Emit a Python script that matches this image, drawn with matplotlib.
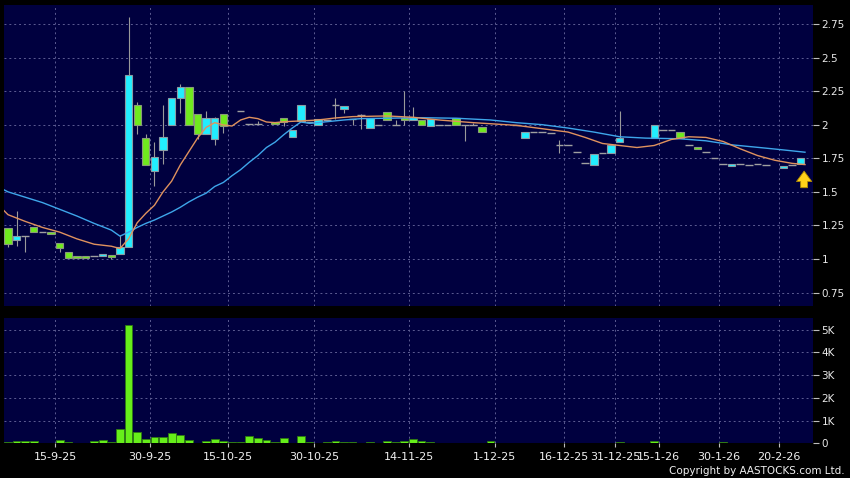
import numpy as np
import matplotlib
matplotlib.use('Agg')
import matplotlib.pyplot as plt

nan = np.nan

# daily candles (index = trading slot on the chart)
opens = [1.23, 1.14, 1.17, 1.24, 1.20, 1.20, 1.12, 1.05, 1.02, 1.02,
         1.02, 1.02, 1.03, 1.035, 1.09, 2.15, 1.90, 1.655, 1.81, 2.00,
         2.20, 2.28, 2.08, 1.93, 1.89, 2.08, nan, 2.105, 2.005, 2.005,
         nan, 2.022, 2.048, 1.906, 2.03, 2.02, 2.00, 2.035, 2.15, 2.115,
         2.045, 2.07, 1.973, 2.00, 2.097, 2.00, 2.048, 2.035, 2.035, 1.993,
         2.00, 2.00, 2.048, 2.00, 2.00, 1.985, nan, nan, nan, 1.995,
         1.90, 1.948, 1.948, 1.936, 1.845, 1.845, 1.794, 1.712, 1.70, 1.787,
         1.787, 1.873, nan, nan, nan, 1.90, 1.96, 1.96, 1.943, 1.847,
         1.836, 1.794, 1.75, 1.707, 1.695, 1.707, 1.70, 1.705, 1.698, nan,
         1.68, 1.698, 1.705]
highs = [1.23, 1.36, 1.17, 1.24, 1.20, 1.20, 1.12, 1.05, 1.02, 1.02,
         1.02, 1.035, 1.03, 1.18, 2.80, 2.17, 1.93, 1.87, 2.145, 2.20,
         2.30, 2.28, 2.08, 2.10, 2.055, 2.08, nan, 2.105, 2.005, 2.03,
         nan, 2.022, 2.048, 1.96, 2.145, 2.02, 2.04, 2.035, 2.20, 2.14,
         2.045, 2.08, 2.048, 2.00, 2.097, 2.035, 2.25, 2.13, 2.035, 2.042,
         2.00, 2.00, 2.048, 2.00, 2.015, 1.985, nan, nan, nan, 1.995,
         1.943, 1.948, 1.948, 1.936, 1.886, 1.845, 1.794, 1.712, 1.78, 1.787,
         1.85, 2.105, nan, nan, nan, 2.00, 1.96, 1.96, 1.943, 1.847,
         1.836, 1.794, 1.75, 1.707, 1.71, 1.707, 1.70, 1.705, 1.698, nan,
         1.695, 1.698, 1.75]
lows = [1.09, 1.10, 1.05, 1.20, 1.20, 1.185, 1.05, 1.005, 1.005, 1.005,
        1.02, 1.02, 1.00, 1.035, 1.09, 1.93, 1.70, 1.54, 1.705, 2.00,
        2.085, 2.00, 1.89, 1.93, 1.85, 1.94, nan, 2.105, 2.005, 2.005,
        nan, 2.005, 1.99, 1.906, 2.03, 2.02, 2.00, 2.035, 2.04, 2.085,
        2.00, 1.97, 1.973, 2.00, 2.035, 2.00, 2.00, 2.035, 1.995, 1.993,
        2.00, 2.00, 1.998, 1.88, 2.00, 1.943, nan, nan, nan, 1.995,
        1.90, 1.948, 1.948, 1.936, 1.79, 1.845, 1.794, 1.712, 1.70, 1.787,
        1.787, 1.873, nan, nan, nan, 1.90, 1.96, 1.96, 1.90, 1.847,
        1.817, 1.794, 1.75, 1.707, 1.695, 1.707, 1.70, 1.705, 1.698, nan,
        1.68, 1.698, 1.705]
closes = [1.11, 1.17, 1.17, 1.20, 1.20, 1.185, 1.08, 1.005, 1.005, 1.005,
          1.02, 1.035, 1.015, 1.09, 2.37, 2.00, 1.70, 1.76, 1.91, 2.20,
          2.28, 2.00, 1.93, 2.05, 2.05, 1.99, nan, 2.105, 2.005, 2.005,
          nan, 2.005, 2.022, 1.96, 2.145, 2.02, 2.04, 2.035, 2.15, 2.14,
          2.045, 2.07, 2.048, 2.00, 2.035, 2.00, 2.035, 2.06, 1.995, 2.042,
          2.00, 2.00, 1.998, 2.00, 2.00, 1.943, nan, nan, nan, 1.995,
          1.943, 1.948, 1.948, 1.936, 1.845, 1.845, 1.794, 1.712, 1.78, 1.787,
          1.85, 1.903, nan, nan, nan, 2.00, 1.96, 1.96, 1.90, 1.847,
          1.817, 1.794, 1.75, 1.707, 1.71, 1.707, 1.70, 1.705, 1.698, nan,
          1.695, 1.698, 1.75]
# volume in thousands of shares
volume_k = [0.04, 0.09, 0.09, 0.09, 0.02, 0.02, 0.13, 0.05, 0.02, 0.02,
            0.09, 0.13, 0.05, 0.62, 5.2, 0.48, 0.18, 0.26, 0.26, 0.45,
            0.35, 0.13, 0.03, 0.10, 0.18, 0.12, 0.04, 0.04, 0.32, 0.25,
            0.15, 0.04, 0.25, 0.02, 0.33, 0.04, 0.0, 0.04, 0.12, 0.05,
            0.05, 0.02, 0.06, 0.01, 0.10, 0.05, 0.10, 0.20, 0.12, 0.04,
            0.01, 0.01, 0.03, 0.03, 0.02, 0.03, 0.09, 0.02, 0.01, 0.02,
            0.03, 0.01, 0.01, 0.01, 0.03, 0.01, 0.01, 0.02, 0.01, 0.01,
            0.02, 0.05, 0.01, 0.01, 0.01, 0.09, 0.02, 0.01, 0.01, 0.01,
            0.01, 0.02, 0.01, 0.04, 0.01, 0.01, 0.02, 0.01, 0.01, 0.01,
            0.01, 0.01, 0.02]

# moving averages
ma_short_idx = [-0.46, 0, 2, 4, 6, 8, 10, 12, 13, 14, 15, 16, 17, 18, 19, 20,
                21, 22, 23, 24, 25, 26, 27, 28, 29, 30, 31, 32, 34, 36, 38, 40,
                44, 47, 50, 54, 59, 62, 65, 67, 69, 71, 73, 75, 77, 79, 81, 83,
                85, 87, 89, 91, 92.5]
ma_short = [1.36, 1.33, 1.28, 1.235, 1.20, 1.15, 1.11, 1.095, 1.078, 1.15,
            1.27, 1.34, 1.40, 1.50, 1.58, 1.70, 1.80, 1.90, 1.98, 2.015,
            1.998, 1.99, 2.035, 2.055, 2.045, 2.02, 2.015, 2.022, 2.028, 2.035,
            2.05, 2.06, 2.065, 2.055, 2.035, 2.015, 1.995, 1.97, 1.945, 1.905,
            1.86, 1.845, 1.83, 1.845, 1.89, 1.91, 1.905, 1.875, 1.82, 1.77,
            1.735, 1.712, 1.703]
ma_long_idx = [-0.46, 0, 2, 4, 6, 8, 10, 12, 13, 14, 15, 16, 17, 18, 19, 20,
               21, 22, 23, 24, 25, 26, 27, 28, 29, 30, 31, 32, 33, 34, 35, 36,
               37, 39, 41, 44, 48, 52, 56, 59, 62, 65, 68, 71, 74, 78, 81, 84,
               88, 90, 92.5]
ma_long = [1.515, 1.50, 1.46, 1.42, 1.37, 1.32, 1.265, 1.215, 1.17, 1.20,
           1.235, 1.265, 1.29, 1.32, 1.35, 1.385, 1.425, 1.46, 1.49, 1.54,
           1.57, 1.62, 1.665, 1.72, 1.77, 1.83, 1.87, 1.925, 1.975, 2.02,
           2.01, 2.015, 2.022, 2.035, 2.045, 2.048, 2.052, 2.048, 2.035, 2.015,
           2.0, 1.975, 1.945, 1.91, 1.90, 1.895, 1.88, 1.85, 1.825, 1.812,
           1.795]

date_labels = ['15-9-25', '30-9-25', '15-10-25', '30-10-25', '14-11-25', '1-12-25',
               '16-12-25', '31-12-25', '15-1-26', '30-1-26', '20-2-26']
date_idx = [5.5, 16.5, 25.5, 35.5, 46.5, 56.5, 64.5, 70.5, 75.5, 82.5, 89.5]
price_ticks = [0.75, 1, 1.25, 1.5, 1.75, 2, 2.25, 2.5, 2.75]
vol_ticks = [0, 1, 2, 3, 4, 5]

o = np.array(opens)
h = np.array(highs)
l = np.array(lows)
c = np.array(closes)
x = np.arange(len(o))

BG = '#00003f'
GRID = '#5c5c92'
CYAN = '#22eeff'
GREEN = '#70ea1e'

fig = plt.figure(figsize=(8.5, 4.78), dpi=100, facecolor='black')
ax = fig.add_axes([4/850, 1-306/478, 809/850, 301/478])
axv = fig.add_axes([4/850, 1-443.3/478, 809/850, 125/478])

for a in (ax, axv):
    a.set_facecolor(BG)
    for s in a.spines.values():
        s.set_visible(False)
    a.set_xlim(-0.46, 93.43)
    a.set_xticks(date_idx)
    a.grid(True, color=GRID, linestyle=(0, (2, 3)), linewidth=0.7)
    a.set_axisbelow(True)
    a.yaxis.tick_right()
    a.tick_params(axis='y', colors='#bdbdbd', labelcolor='#e8e8e8',
                  labelsize=7.5, length=4, width=0.8, pad=2)

# candles
valid = ~np.isnan(o)
doji = valid & (np.abs(c - o) < 1e-9)
body = valid & ~doji
up = body & (c > o)
down = body & (c < o)

ax.vlines(x[valid], l[valid], h[valid], color='#9a9a9a', lw=0.8, zorder=2)
ax.hlines(o[doji], x[doji] - 0.45, x[doji] + 0.45, color='#a0a0a0', lw=1.0, zorder=2)
ax.bar(x[up], c[up] - o[up], bottom=o[up], width=0.85, color=CYAN,
       edgecolor='#8a9ca4', linewidth=0.8, zorder=2)
ax.bar(x[down], o[down] - c[down], bottom=c[down], width=0.85, color=GREEN,
       edgecolor='#8a9a7a', linewidth=0.8, zorder=2)

ax.plot(ma_long_idx, ma_long, color='#3ea6ea', lw=1.0, zorder=3)
ax.plot(ma_short_idx, ma_short, color='#e0925e', lw=1.0, zorder=3)

ax.annotate('', xy=(92.4, 1.675), xytext=(92.4, 1.51),
            arrowprops=dict(arrowstyle='simple,head_width=1.1,head_length=0.75,tail_width=0.5',
                            mutation_scale=10, fc='#ffd21a', ec='#b08a00', lw=0.6),
            zorder=4)

ax.set_ylim(0.65, 2.891)
ax.set_yticks(price_ticks)
ax.set_yticklabels(['%g' % t for t in price_ticks])
ax.tick_params(axis='x', length=0, labelbottom=False)

# volume
axv.bar(x, volume_k, width=0.9, color='#66ee1a', edgecolor='#2f7a12', linewidth=0.6, zorder=2)
axv.set_ylim(0, 5.5)
axv.set_yticks(vol_ticks)
axv.set_yticklabels(['0' if t == 0 else '%dK' % t for t in vol_ticks])
axv.set_xticklabels(date_labels)
axv.tick_params(axis='x', colors='#bdbdbd', labelcolor='#f0f0f0', labelsize=8,
                length=3, width=0.8, pad=3)

fig.text(845/850, 1-471/478, 'Copyright by AASTOCKS.com Ltd.', color='#f0f0f0',
         fontsize=7.5, ha='right', va='center')

fig.savefig('out.png', dpi=100, facecolor='black')
